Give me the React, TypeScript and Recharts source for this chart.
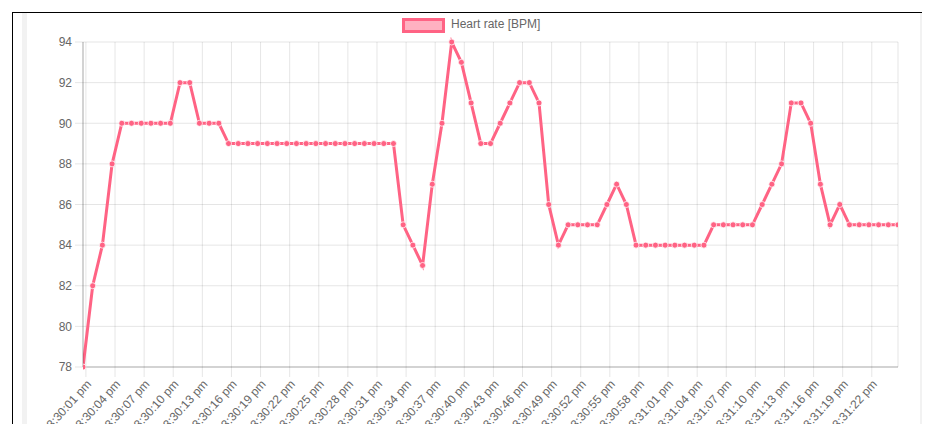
import React from "react";
import { LineChart, Line, XAxis, YAxis, CartesianGrid } from "recharts";

// seconds after 3:30:00 pm
const times = [
  0.7, 1.7, 2.7, 3.7, 4.7, 5.7, 6.7, 7.7, 8.7, 9.7,
  10.7, 11.7, 12.7, 13.7, 14.7, 15.7, 16.7, 17.7, 18.7, 19.7,
  20.7, 21.7, 22.7, 23.7, 24.7, 25.7, 26.7, 27.7, 28.7, 29.7,
  30.7, 31.7, 32.7, 33.7, 34.7, 35.7, 36.7, 37.7, 38.7, 39.7,
  40.7, 41.7, 42.7, 43.7, 44.7, 45.7, 46.7, 47.7, 48.7, 49.7,
  50.7, 51.7, 52.7, 53.7, 54.7, 55.7, 56.7, 57.7, 58.7, 59.7,
  60.7, 61.7, 62.7, 63.7, 64.7, 65.7, 66.7, 67.7, 68.7, 69.7,
  70.7, 71.7, 72.7, 73.7, 74.7, 75.7, 76.7, 77.7, 78.7, 79.7,
  80.7, 81.7, 82.7, 83.7, 84.7,
];

const bpm = [
  78, 82, 84, 88, 90, 90, 90, 90, 90, 90, 92, 92, 90, 90, 90,
  89, 89, 89, 89, 89, 89, 89, 89, 89, 89, 89, 89, 89, 89, 89, 89, 89, 89,
  85, 84, 83, 87, 90, 94, 93, 91, 89, 89, 90, 91, 92, 92, 91, 86, 84,
  85, 85, 85, 85, 86, 87, 86,
  84, 84, 84, 84, 84, 84, 84, 84,
  85, 85, 85, 85, 85,
  86, 87, 88, 91, 91, 90, 87, 85, 86,
  85, 85, 85, 85, 85, 85,
];

const xTicks = [1, 4, 7, 10, 13, 16, 19, 22, 25, 28, 31, 34, 37, 40, 43, 46, 49, 52, 55, 58, 61, 64, 67, 70, 73, 76, 79, 82];
const xTickLabels = [
  "3:30:01 pm", "3:30:04 pm", "3:30:07 pm", "3:30:10 pm", "3:30:13 pm", "3:30:16 pm", "3:30:19 pm",
  "3:30:22 pm", "3:30:25 pm", "3:30:28 pm", "3:30:31 pm", "3:30:34 pm", "3:30:37 pm", "3:30:40 pm",
  "3:30:43 pm", "3:30:46 pm", "3:30:49 pm", "3:30:52 pm", "3:30:55 pm", "3:30:58 pm", "3:31:01 pm",
  "3:31:04 pm", "3:31:07 pm", "3:31:10 pm", "3:31:13 pm", "3:31:16 pm", "3:31:19 pm", "3:31:22 pm",
];
const yTicks = [78, 80, 82, 84, 86, 88, 90, 92, 94];
const seriesName = "Heart rate [BPM]";

const data = times.map((t, i) => ({ t, bpm: bpm[i] }));

const FONT = "'Liberation Sans', Arial, Helvetica, sans-serif";
const GRID = "rgba(0,0,0,0.1)";

const XTick = (props: any) => {
  const { x, payload } = props;
  const idx = xTicks.indexOf(payload.value);
  const label = idx >= 0 ? xTickLabels[idx] : "";
  const ax = x + 3;
  const ay = 382;
  return (
    <text
      x={ax}
      y={ay}
      transform={`rotate(-48, ${ax}, ${ay})`}
      textAnchor="end"
      dominantBaseline="central"
      fontSize={12}
      fontFamily={FONT}
      fill="#666"
    >
      {label}
    </text>
  );
};

export default function App() {
  return (
    <div style={{ position: "relative", width: 930, height: 432, overflow: "hidden", margin: -8, background: "#fff" }}>
      <div
        style={{
          position: "absolute",
          left: 12,
          top: 12,
          width: 930,
          height: 440,
          borderTop: "1px solid #000",
          borderLeft: "1px solid #000",
        }}
      />
      <div style={{ position: "absolute", left: 22, top: 13, width: 5, height: 420, background: "#f2f2f2" }} />
      <div style={{ position: "absolute", left: 920, top: 13, width: 5, height: 420, background: "#f2f2f2" }} />
      <div style={{ position: "absolute", left: 0, top: 0 }}>
        <LineChart width={930} height={432} data={data} margin={{ top: 42, right: 32, left: 0, bottom: 0 }}>
          <CartesianGrid stroke={GRID} strokeWidth={1} />
          <XAxis
            dataKey="t"
            type="number"
            domain={[0.7, 84.7]}
            ticks={xTicks}
            interval={0}
            height={65}
            tickSize={10}
            tickLine={{ stroke: GRID }}
            axisLine={{ stroke: "rgba(0,0,0,0.25)" }}
            tick={<XTick />}
            allowDataOverflow
          />
          <YAxis
            type="number"
            domain={[78, 94]}
            ticks={yTicks}
            interval={0}
            width={83}
            tickSize={8}
            tickMargin={3}
            tickLine={{ stroke: GRID }}
            axisLine={{ stroke: "rgba(0,0,0,0.25)" }}
            tick={{ fontSize: 12, fill: "#666", fontFamily: FONT }}
          />
          <Line
            type="linear"
            dataKey="bpm"
            name={seriesName}
            stroke="#ff6384"
            strokeWidth={3}
            dot={{ r: 3, fill: "#ff6384", stroke: "rgba(255,255,255,0.75)", strokeWidth: 1 }}
            isAnimationActive={false}
          />
        </LineChart>
      </div>
      <div
        style={{
          position: "absolute",
          left: 402,
          top: 18,
          width: 43,
          height: 15,
          boxSizing: "border-box",
          border: "3px solid rgb(255,99,132)",
          background: "rgba(255,99,132,0.5)",
        }}
      />
      <div
        style={{
          position: "absolute",
          left: 451,
          top: 17,
          fontSize: 12,
          lineHeight: "15px",
          color: "#666",
          fontFamily: FONT,
          whiteSpace: "nowrap",
        }}
      >
        {seriesName}
      </div>
    </div>
  );
}
